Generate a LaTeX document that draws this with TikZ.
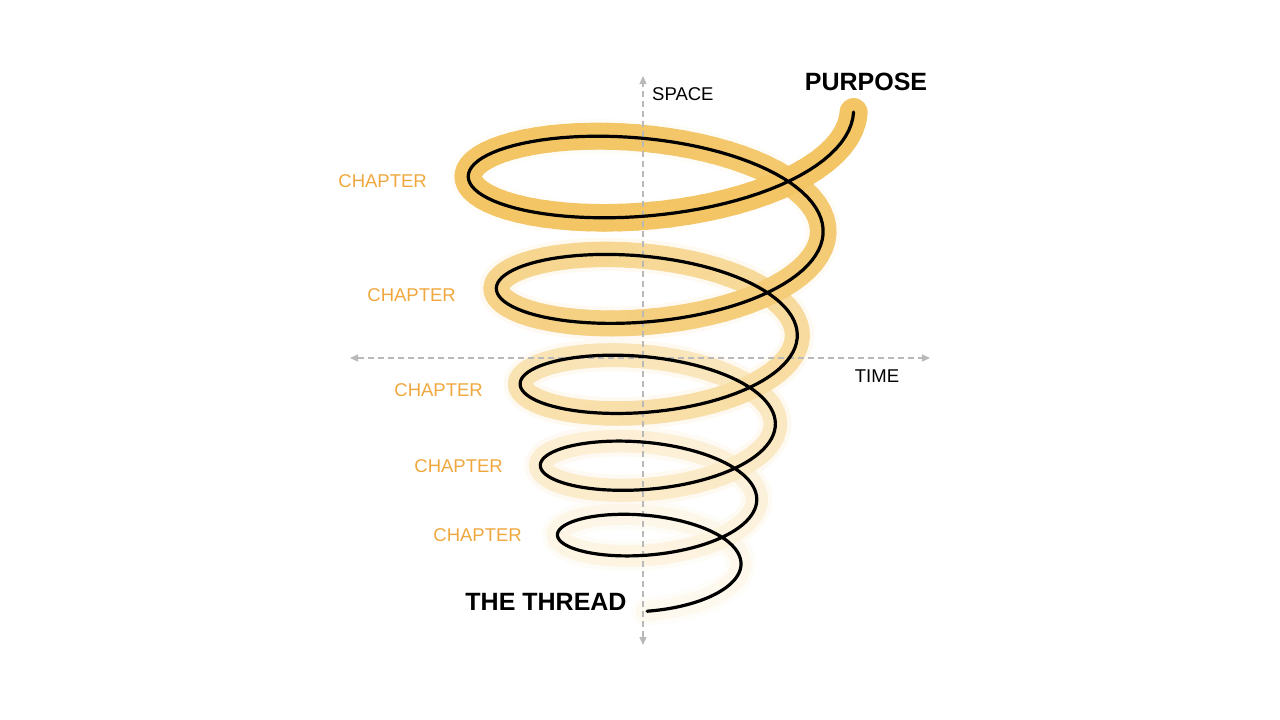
\documentclass[tikz,border=0pt]{standalone}
\usepackage{fontspec}
\setmainfont{Liberation Sans}
\usetikzlibrary{arrows.meta}
\definecolor{bandc}{RGB}{243,197,100}
\definecolor{chapc}{RGB}{240,168,62}
\definecolor{axisc}{RGB}{185,185,185}
\tikzset{
  declare function={
    rr(\t)=88*exp(0.000465*\t);
    yc(\t)=565-372*(exp(0.000439*\t)-1);
    sx(\t)=653+rr(\t)*cos(\t);
    sy(\t)=yc(\t)-0.37*rr(\t)*sin(\t);
  },
  axisline/.style={draw=axisc,line width=1.3pt,dash pattern=on 6pt off 4pt,
    {Triangle[length=8pt,width=7pt,fill=axisc]}-{Triangle[length=8pt,width=7pt,fill=axisc]}},
  thread/.style={draw=black,line width=3.2pt,line cap=round,line join=round},
  chaplabel/.style={text=chapc,font=\fontsize{18.5}{20}\selectfont,anchor=east,inner sep=0pt},
  axlabel/.style={text=black,font=\fontsize{18.5}{20}\selectfont,inner sep=0pt},
  biglabel/.style={text=black,font=\bfseries\fontsize{25}{28}\selectfont,inner sep=0pt}
}
\begin{document}
\begin{tikzpicture}[x=1pt,y=-1pt]
\useasboundingbox[fill=white] (0,0) rectangle (1280,720);
% soft halo of the band (strongest at the bottom)
\foreach \a in {-95,-90,...,1795}{
  \pgfmathsetmacro\p{(\a+95)/1895}
  \pgfmathtruncatemacro\f{100*(0.1+0.3*\p+0.75*\p*\p)*0.45*(1-\p)}
  \pgfmathsetmacro\w{29+6*\p}
  \draw[color=bandc!\f!white,line width=\w pt,line cap=round]
    plot[domain=\a:\a+5,samples=4] ({sx(\x)},{sy(\x)});
}
% yellow band, fading towards the bottom
\foreach \a in {-95,-90,...,1795}{
  \pgfmathsetmacro\p{(\a+95)/1895}
  \pgfmathtruncatemacro\f{min(100,108*(0.1+0.3*\p+0.75*\p*\p))}
  \pgfmathsetmacro\w{20+8*\p}
  \draw[color=bandc!\f!white,line width=\w pt,line cap=round]
    plot[domain=\a:\a+5,samples=4] ({sx(\x)},{sy(\x)});
}
% axes
\coordinate (ytop) at (643,76);
\coordinate (ybot) at (643,645);
\coordinate (xl) at (350,358);
\coordinate (xr) at (930,358);
\draw[axisline] (ybot) -- (ytop);
\draw[axisline] (xl) -- (xr);
% thread
\draw[thread] plot[domain=-94:1800,samples=500] ({sx(\x)},{sy(\x)});
% labels
\node[axlabel,anchor=west] (space) at (652,94) {SPACE};
\node[axlabel] (time) at (877,376) {TIME};
\node[biglabel] (purpose) at (866,82) {PURPOSE};
\node[biglabel] (thread) at (546,602) {THE THREAD};
\node[chaplabel] (c1) at (427,181) {CHAPTER};
\node[chaplabel] (c2) at (456,295) {CHAPTER};
\node[chaplabel] (c3) at (483,390) {CHAPTER};
\node[chaplabel] (c4) at (503,466) {CHAPTER};
\node[chaplabel] (c5) at (522,535) {CHAPTER};
\end{tikzpicture}
\end{document}
